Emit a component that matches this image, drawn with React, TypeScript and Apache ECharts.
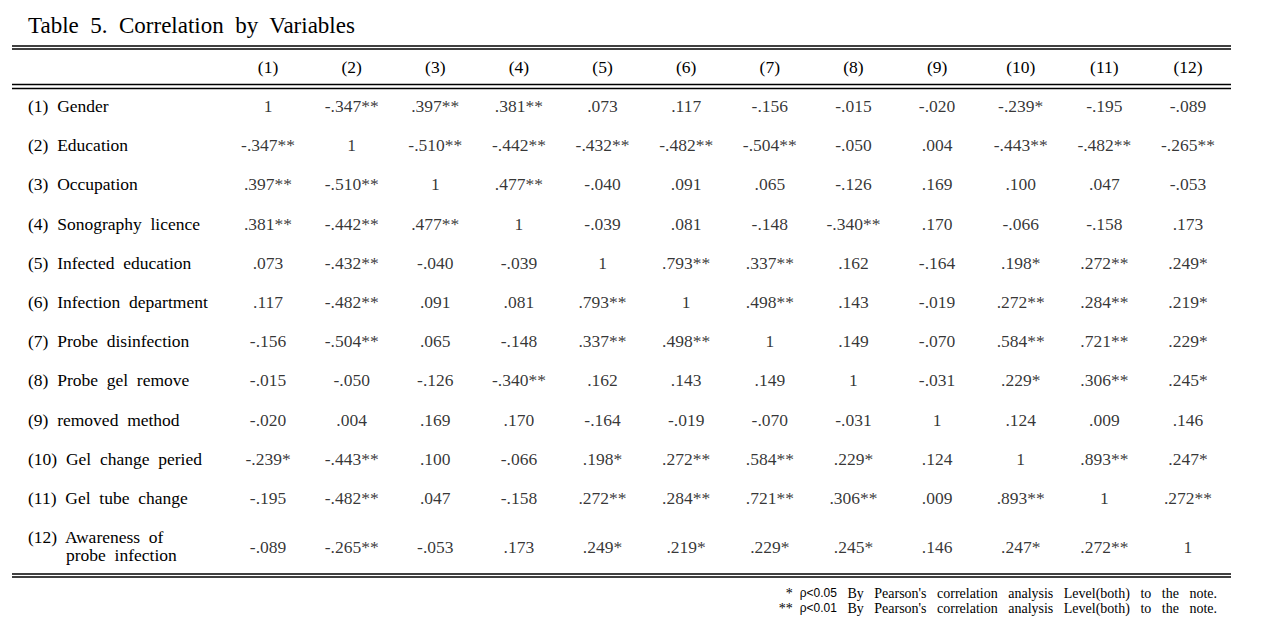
import React, { useEffect, useRef } from "react";
import * as echarts from "echarts";

const TITLE = "Table  5.  Correlation  by  Variables";
const columns = ["(1)", "(2)", "(3)", "(4)", "(5)", "(6)", "(7)", "(8)", "(9)", "(10)", "(11)", "(12)"];
const variables = [
  "Gender",
  "Education",
  "Occupation",
  "Sonography licence",
  "Infected education",
  "Infection department",
  "Probe disinfection",
  "Probe gel remove",
  "removed method",
  "Gel change peried",
  "Gel tube change",
  "Awareness of probe infection",
];

const r1 = ["1", "-.347**", ".397**", ".381**", ".073", ".117", "-.156", "-.015", "-.020", "-.239*", "-.195", "-.089"];
const r2 = ["-.347**", "1", "-.510**", "-.442**", "-.432**", "-.482**", "-.504**", "-.050", ".004", "-.443**", "-.482**", "-.265**"];
const r3 = [".397**", "-.510**", "1", ".477**", "-.040", ".091", ".065", "-.126", ".169", ".100", ".047", "-.053"];
const r4 = [".381**", "-.442**", ".477**", "1", "-.039", ".081", "-.148", "-.340**", ".170", "-.066", "-.158", ".173"];
const r5 = [".073", "-.432**", "-.040", "-.039", "1", ".793**", ".337**", ".162", "-.164", ".198*", ".272**", ".249*"];
const r6 = [".117", "-.482**", ".091", ".081", ".793**", "1", ".498**", ".143", "-.019", ".272**", ".284**", ".219*"];
const r7 = ["-.156", "-.504**", ".065", "-.148", ".337**", ".498**", "1", ".149", "-.070", ".584**", ".721**", ".229*"];
const r8 = ["-.015", "-.050", "-.126", "-.340**", ".162", ".143", ".149", "1", "-.031", ".229*", ".306**", ".245*"];
const r9 = ["-.020", ".004", ".169", ".170", "-.164", "-.019", "-.070", "-.031", "1", ".124", ".009", ".146"];
const r10 = ["-.239*", "-.443**", ".100", "-.066", ".198*", ".272**", ".584**", ".229*", ".124", "1", ".893**", ".247*"];
const r11 = ["-.195", "-.482**", ".047", "-.158", ".272**", ".284**", ".721**", ".306**", ".009", ".893**", "1", ".272**"];
const r12 = ["-.089", "-.265**", "-.053", ".173", ".249*", ".219*", ".229*", ".245*", ".146", ".247*", ".272**", "1"];
const matrix = [r1, r2, r3, r4, r5, r6, r7, r8, r9, r10, r11, r12];

const noteMarks = ["*", "**"];
const noteLevels = ["ρ<0.05", "ρ<0.01"];
const noteText = "By Pearson's correlation analysis Level(both) to the note.";

const SERIF = "'Liberation Serif', 'Times New Roman', serif";
const FS = 17.5;

export default function App() {
  const ref = useRef<HTMLDivElement>(null);
  useEffect(() => {
    if (!ref.current) return;
    const chart = echarts.init(ref.current, undefined, { renderer: "svg" });
    const rowLabels = variables.map((v, i) => `(${i + 1})  ` + v.split(" ").join("  "));

    const data: any[] = [];
    matrix.forEach((row, i) => {
      row.forEach((txt, j) => {
        const item: any = { value: [j, i], label: { formatter: txt } };
        if (i === matrix.length - 1) item.label.offset = [0, 9.4];
        data.push(item);
      });
    });

    const lineYs = [46, 49, 84.5, 88.5, 574, 577];
    const graphics: any[] = lineYs.map((y) => ({
      type: "line",
      shape: { x1: 12, y1: y, x2: 1231, y2: y },
      style: { stroke: "#000", lineWidth: 1.4 },
      silent: true,
    }));
    const wideText = "   " + noteText.split(" ").join("   ");
    noteMarks.forEach((mark, k) => {
      graphics.push({
        type: "text",
        x: 1217,
        y: 593 + k * 15,
        style: {
          text: `{m|${mark}  }{p|${noteLevels[k]}}{t|${wideText}}`,
          align: "right",
          verticalAlign: "middle",
          rich: {
            m: { fontFamily: SERIF, fontSize: 14, fill: "#000" },
            p: { fontFamily: "'Liberation Sans', sans-serif", fontSize: 12, fill: "#000" },
            t: { fontFamily: SERIF, fontSize: 14, fill: "#000" },
          },
          fontFamily: SERIF,
          fontSize: 14,
          fill: "#000",
        },
        silent: true,
      });
    });

    chart.setOption({
      animation: false,
      backgroundColor: "#fff",
      title: {
        text: TITLE,
        left: 28,
        top: 14,
        padding: 0,
        textStyle: { fontFamily: SERIF, fontSize: 23, fontWeight: "normal", color: "#000" },
      },
      grid: { left: 226.2, right: 42.2, top: 86.4, height: 470.4, containLabel: false },
      xAxis: {
        type: "category",
        position: "top",
        data: columns,
        axisLine: { show: false },
        axisTick: { show: false },
        splitLine: { show: false },
        axisLabel: {
          interval: 0,
          margin: 19,
          verticalAlign: "middle",
          fontFamily: SERIF,
          fontSize: FS,
          color: "#000",
        },
      },
      yAxis: {
        type: "category",
        inverse: true,
        data: rowLabels,
        axisLine: { show: false },
        axisTick: { show: false },
        splitLine: { show: false },
        axisLabel: {
          interval: 0,
          align: "left",
          margin: 198.2,
          fontFamily: SERIF,
          fontSize: FS,
          color: "#000",
          lineHeight: 18,
          formatter: (value: string, index: number) => {
            if (index === variables.length - 1) {
              const words = variables[index].split(" ");
              const first = `(${index + 1})  ` + words.slice(0, 2).join("  ");
              const second = words.slice(2).join("  ");
              return `{e|}\n{a|${first}}\n{b|${second}}`;
            }
            return `{a|${value}}`;
          },
          rich: {
            e: { height: 18, lineHeight: 18 },
            a: { fontFamily: SERIF, fontSize: FS, color: "#000", lineHeight: 18 },
            b: { fontFamily: SERIF, fontSize: FS, color: "#000", lineHeight: 18, padding: [0, 0, 0, 38] },
          },
        },
      },
      series: [
        {
          type: "scatter",
          silent: true,
          symbolSize: 1,
          itemStyle: { color: "rgba(0,0,0,0)" },
          label: {
            show: true,
            position: "inside",
            fontFamily: SERIF,
            fontSize: FS,
            color: "#000",
          },
          data,
        },
      ],
      graphic: graphics,
    });
    return () => chart.dispose();
  }, []);
  return (
    <div
      ref={ref}
      style={{ position: "absolute", left: 0, top: 0, width: 1272, height: 629, background: "#fff" }}
    />
  );
}
